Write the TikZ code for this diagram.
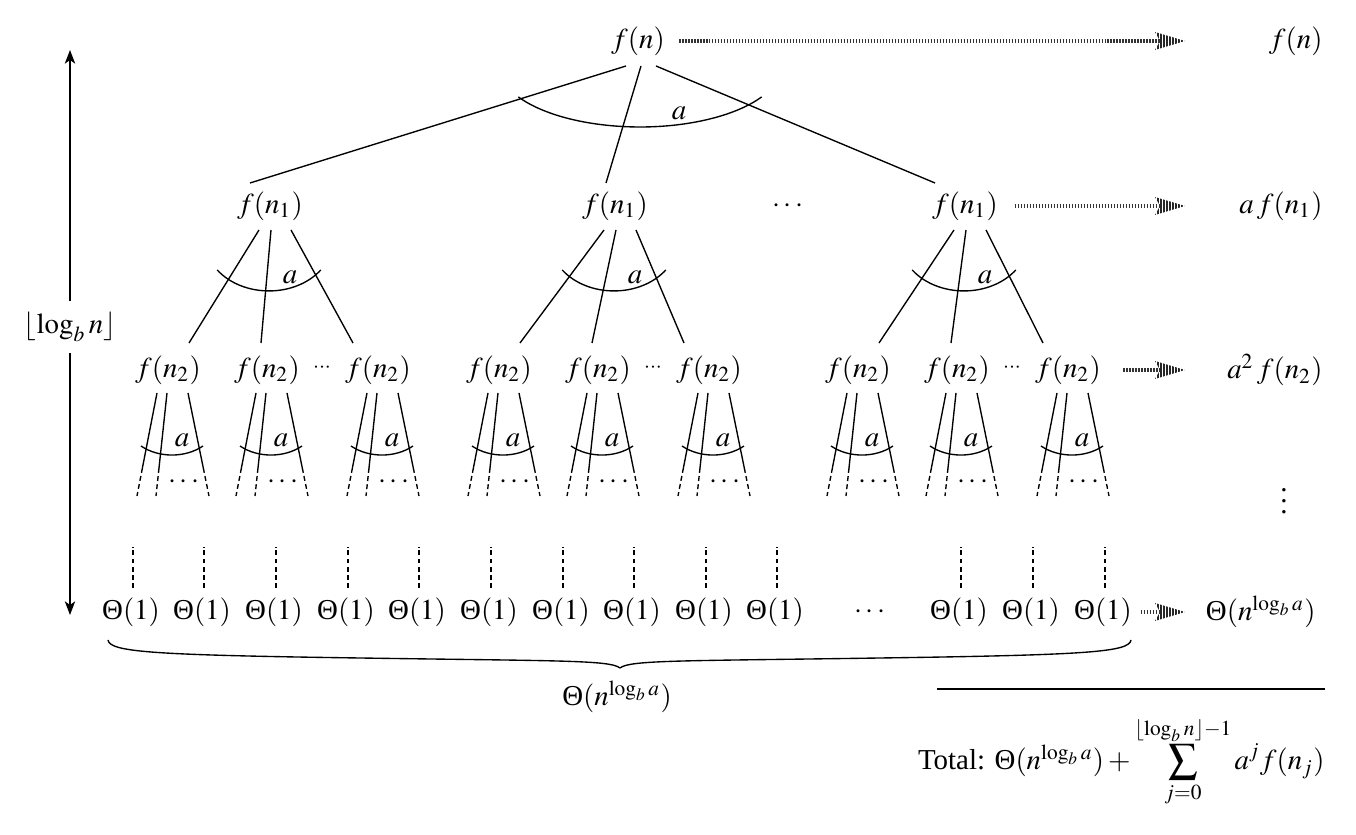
\documentclass[tikz,border=0pt]{standalone}
\usepackage{mathptmx}
\usepackage[no-math]{fontspec}
\setmainfont{Liberation Serif}
\usetikzlibrary{calc,arrows.meta}
\newcommand\Th{\mathord{\mbox{Θ}}}
\tikzset{
  lbl/.style={inner sep=0pt},
  edge/.style={line width=0.5pt},
  dashedge/.style={line width=0.5pt, dash pattern=on 1.8pt off 1.2pt},
  grayshaft/.style={line width=1.8pt, draw=black!80, dash pattern=on 0.6pt off 0.5pt},
  grayhead/.style={line width=8pt, draw=black!85, dash pattern=on 0.6pt off 0.5pt},
}
% gray striped arrow: #1 start coordinate, #2 tip coordinate
\newcommand\grayarrow[2]{%
  \draw[grayshaft] (#1) -- ($(#2)+(-24,0)$);
  \begin{scope}
    \clip (#2) -- ($(#2)+(-30,-9)$) -- ($(#2)+(-25,0)$) -- ($(#2)+(-30,9)$) -- cycle;
    \draw[grayhead] ($(#2)+(-31,0)$) -- (#2);
  \end{scope}}
% small subtree below an f(n_2) node: #1 name, #2 x
\newcommand\mkleaf[2]{%
  \node[lbl] (#1) at (#2,370) {$f(n_2)$};
  \draw[edge] ([shift={(-11,23)}]#1.center) -- ([shift={(-25.6,98)}]#1.center);
  \draw[dashedge] ([shift={(-25.6,98)}]#1.center) -- ([shift={(-31,126)}]#1.center);
  \draw[edge] ([shift={(-1,23)}]#1.center) -- ([shift={(-9,98)}]#1.center);
  \draw[dashedge] ([shift={(-9,98)}]#1.center) -- ([shift={(-12,126)}]#1.center);
  \draw[edge] ([shift={(20,23)}]#1.center) -- ([shift={(35.3,98)}]#1.center);
  \draw[dashedge] ([shift={(35.3,98)}]#1.center) -- ([shift={(41,126)}]#1.center);
  \draw[edge] ([shift={(4,45)}]#1.center) ++(230.8:18pt and 14.7pt)
     arc[start angle=230.8,end angle=309.2,x radius=18pt,y radius=14.7pt];
  \node[lbl] (#1-a) at ([shift={(14,70)}]#1.center) {$a$};
  \node[lbl] (#1-d) at ([shift={(16,112)}]#1.center) {$\cdots$};
}
% second-level tree: #1 name, #2 parent x, #3 middle child x
\newcommand\mktree[3]{%
  \node[lbl] (#1) at (#2,206) {$f(n_1)$};
  \mkleaf{#1L}{#3-99}
  \mkleaf{#1M}{#3}
  \mkleaf{#1R}{#3+111}
  \node[lbl] (#1D) at (#3+55,368) {$\scriptstyle\cdots$};
  \draw[edge] ([shift={(-11,24)}]#1.center) -- ([shift={(21,-27)}]#1L.center);
  \draw[edge] ([shift={(1,24)}]#1.center) -- ([shift={(-6,-27)}]#1M.center);
  \draw[edge] ([shift={(21,24)}]#1.center) -- ([shift={(-25,-27)}]#1R.center);
  \draw[edge] ([shift={(-1,34)}]#1.center) ++(216:23.5pt and 18.7pt)
     arc[start angle=216,end angle=324,x radius=23.5pt,y radius=18.7pt];
  \node[lbl] (#1-a) at ([shift={(20,71)}]#1.center) {$a$};
}
\begin{document}
\begin{tikzpicture}[x=0.367pt,y=-0.367pt,
  every node/.append style={font=\fontsize{10.6}{12.5}\selectfont}]
\useasboundingbox (0,0) rectangle (1356,835);
% root
\node[lbl] (fn) at (638,41) {$f(n)$};
\mktree{c1}{270}{267}
\mktree{c2}{615}{598}
\mktree{c3}{965}{957}
\node[lbl] (cd) at (788,206) {$\cdots$};
\draw[edge] ([shift={(-12,25)}]fn.center) -- ([shift={(-20,-23)}]c1.center);
\draw[edge] ([shift={(3,25)}]fn.center) -- ([shift={(-9,-23)}]c2.center);
\draw[edge] ([shift={(18,25)}]fn.center) -- ([shift={(-30,-23)}]c3.center);
\draw[edge] ([shift={(2,24)}]fn.center) ++(211:52.1pt and 22.75pt)
   arc[start angle=211,end angle=329,x radius=52.1pt,y radius=22.75pt];
\node[lbl] (fa) at (679,113) {$a$};
% leaves
\foreach \i/\x in {1/131,2/202,3/274,4/346,5/417,6/489,7/561,8/632,9/704,10/775,11/959,12/1031,13/1103}{
  \node[lbl] (t\i) at (\x,612) {$\Th(1)$};
  \draw[dashedge] ([shift={(2,-24)}]t\i.center) -- ([shift={(2,-65)}]t\i.center);
}
\node[lbl] (td) at (870,612) {$\cdots$};
% right column
\node[lbl,anchor=east] (r0) at (1323,41) {$f(n)$};
\node[lbl,anchor=east] (r1) at (1323,206) {$a\,f(n_1)$};
\node[lbl,anchor=east] (r2) at (1323,370) {$a^2\,f(n_2)$};
\node[lbl] (r3) at (1284,493) {$\vdots$};
\node[lbl,anchor=east] (r4) at (1316,612) {$\Th(n^{\log_b a})$};
\coordinate (e0) at (1185,41);
\coordinate (e1) at (1185,206);
\coordinate (e2) at (1185,370);
\coordinate (e3) at (1185,612);
\grayarrow{[xshift=5pt]fn.east}{e0}
\grayarrow{[xshift=6pt]c3.east}{e1}
\grayarrow{[xshift=8pt]c3R.east}{e2}
\grayarrow{[xshift=3pt]t13.east}{e3}
% height arrow
\node[lbl] (h) at (70,327) {$\lfloor \log_b n \rfloor$};
\coordinate (htop) at (70,50);
\coordinate (hbot) at (70,615);
\draw[edge,-{Stealth[length=5pt,width=3.8pt,inset=1.3pt]}] ([yshift=4pt]h.north) -- (htop);
\draw[edge,-{Stealth[length=5pt,width=3.8pt,inset=1.3pt]}] ([yshift=-4pt]h.south) -- (hbot);
% brace
\draw[edge] (108,640) .. controls (110,652) and (150,655) .. (360,658)
   .. controls (560,661) and (610,660) .. (620,668);
\draw[edge] (1131,640) .. controls (1129,652) and (1090,655) .. (880,658)
   .. controls (680,661) and (630,660) .. (620,668);
\node[lbl] (bl) at (617,697) {$\Th(n^{\log_b a})$};
% total
\draw[edge] (937,689) -- (1325,689);
\node[lbl,anchor=east] (tot) at (1325,762) {Total: $\Th(n^{\log_b a}) + \displaystyle\sum_{j=0}^{\lfloor \log_b n\rfloor -1} a^j f(n_j)$};
\end{tikzpicture}
\end{document}
